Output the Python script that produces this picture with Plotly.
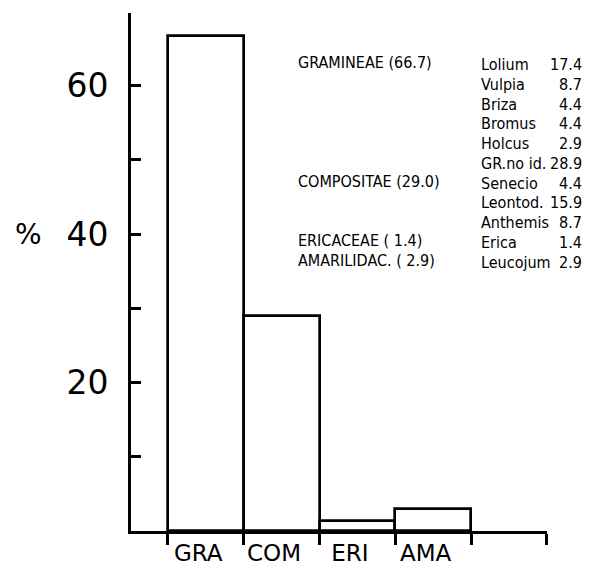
import plotly.graph_objects as go

# ---- data ----
categories = ["GRA", "COM", "ERI", "AMA"]
family_percent = [66.7, 29.0, 1.4, 2.9]
family_labels = ["GRAMINEAE (66.7)", "COMPOSITAE (29.0)", "ERICACEAE ( 1.4)", "AMARILIDAC. ( 2.9)"]
family_rows = [0, 6, 9, 10]
taxa = ["Lolium", "Vulpia", "Briza", "Bromus", "Holcus", "GR.no id.",
        "Senecio", "Leontod.", "Anthemis", "Erica", "Leucojum"]
taxa_percent = ["17.4", "8.7", "4.4", "4.4", "2.9", "28.9",
                "4.4", "15.9", "8.7", "1.4", "2.9"]
y_tick_values = [10, 20, 30, 40, 50, 60]
y_tick_labels = ["", "20", "", "40", "", "60"]

# ---- geometry (pixels of the 590x571 window) ----
WIN_W, WIN_H = 590, 571
OFF = 8                      # default page body margin
W, H = WIN_W - OFF, WIN_H - OFF
L, R, T, B = 131, 547, 13, 533   # plot area in window pixels


def px(x):
    return (x - L) / (R - L)


def py(y):
    return (B - y) / (B - T)


FONT = "DejaVu Sans Condensed, Liberation Sans Narrow, Roboto Condensed, DejaVu Sans, sans-serif"
AXFONT = "DejaVu Sans, Liberation Sans, sans-serif"

bar_pos = [i + 0.5 for i in range(len(categories))]

fig = go.Figure()
fig.add_trace(go.Bar(
    x=bar_pos, y=family_percent, width=1,
    marker=dict(color="white", line=dict(color="black", width=2.7)),
    hoverinfo="skip", showlegend=False,
))

annotations = []
line0, step = 65, 19.8
for lab, row in zip(family_labels, family_rows):
    annotations.append(dict(
        xref="paper", yref="paper", x=px(296), y=py(line0 + step * row - 2),
        text=lab, showarrow=False, xanchor="left", yanchor="middle",
        font=dict(family=FONT, size=16, color="black"),
    ))
for i, (name, val) in enumerate(zip(taxa, taxa_percent)):
    yy = py(line0 + step * i)
    annotations.append(dict(
        xref="paper", yref="paper", x=px(479), y=yy, text=name, showarrow=False,
        xanchor="left", yanchor="middle", font=dict(family=FONT, size=16, color="black"),
    ))
    annotations.append(dict(
        xref="paper", yref="paper", x=px(584), y=yy, text=val, showarrow=False,
        xanchor="right", yanchor="middle", font=dict(family=FONT, size=16, color="black"),
    ))
annotations.append(dict(
    xref="paper", yref="y", x=px(28), y=40, text="%", showarrow=False,
    xanchor="center", yanchor="middle", font=dict(family=AXFONT, size=28, color="black"),
))

fig.update_layout(
    width=W, height=H,
    margin=dict(l=L - OFF, r=WIN_W - R, t=T - OFF, b=WIN_H - B, pad=0),
    paper_bgcolor="white", plot_bgcolor="white",
    bargap=0,
    annotations=annotations,
    xaxis=dict(
        range=[(L - 168) / 75.8, (R - 168) / 75.8 + 0.003],
        showgrid=False, zeroline=False,
        showline=True, linecolor="black", linewidth=2.7,
        tickmode="array", tickvals=[p - 0.1 for p in bar_pos], ticktext=categories,
        ticks="", tickfont=dict(family=AXFONT, size=23, color="black"),
        minor=dict(tickmode="linear", tick0=0, dtick=1, ticks="outside",
                   ticklen=11, tickwidth=2.7, tickcolor="black", showgrid=False),
        fixedrange=True,
    ),
    yaxis=dict(
        range=[0, (B - T) / 7.45],
        showgrid=False, zeroline=False,
        showline=True, linecolor="black", linewidth=2.7,
        tickmode="array", tickvals=y_tick_values, ticktext=y_tick_labels,
        ticks="inside", ticklen=10, tickwidth=2.7, tickcolor="black",
        ticklabelstandoff=13,
        tickfont=dict(family=AXFONT, size=33, color="black"),
        fixedrange=True,
    ),
)

fig.write_html("out.html")
